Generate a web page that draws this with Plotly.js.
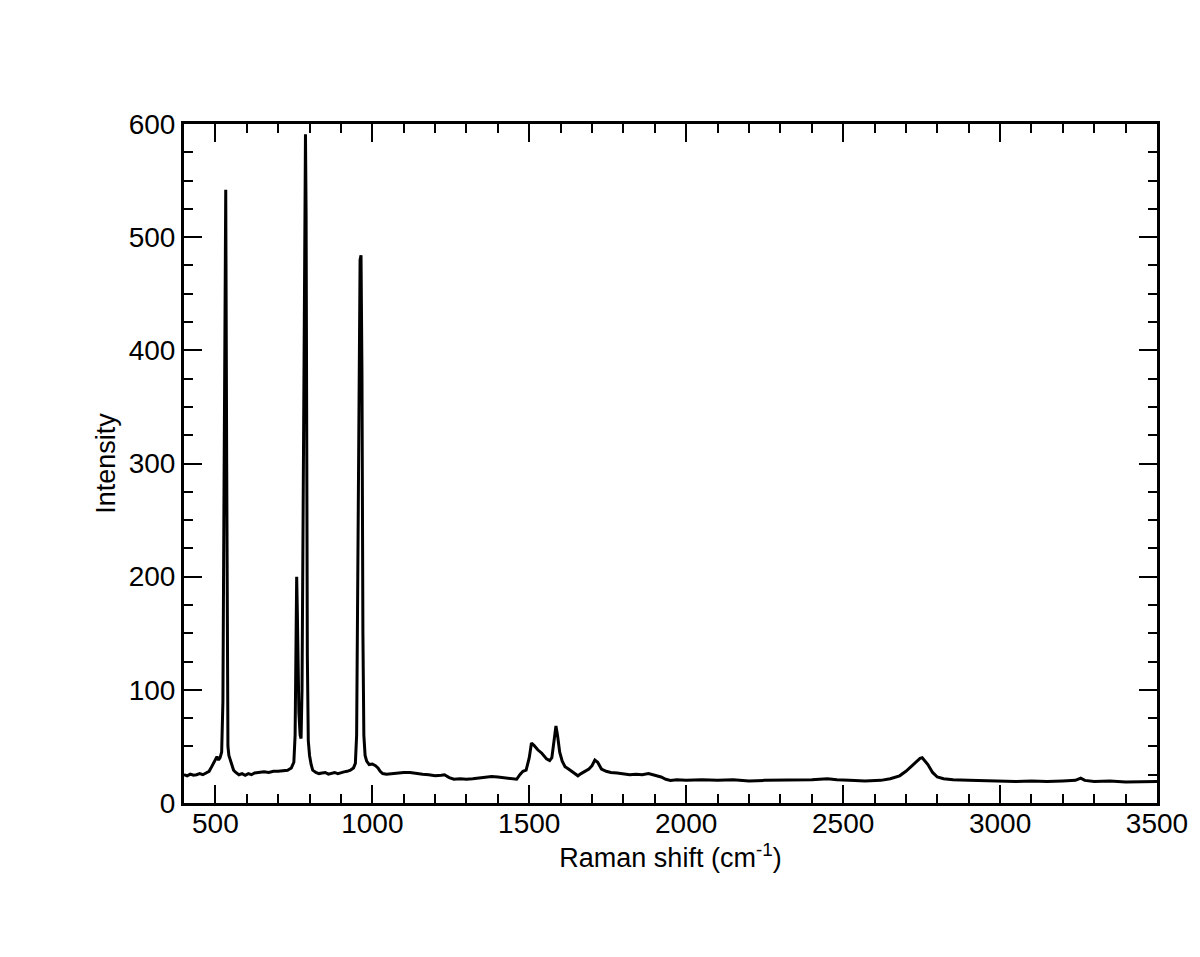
<!DOCTYPE html>
<html>
<head>
<meta charset="utf-8">
<script src="https://cdn.plot.ly/plotly-3.0.1.min.js"></script>
<style>html,body{margin:0;padding:0;background:#fff;}#chart{width:1200px;height:957px;}</style>
</head>
<body>
<div id="chart"></div>
<script>
const shift = [400,410,420,430,440,450,460,470,480,490,500,505,510,515,520,524,527,530,533,536,538,540,543,548,553,558,565,575,585,595,605,615,625,640,655,670,685,700,715,730,742,750,754,757,759,761,763,766,770,773,776,779,782,785,787,789,791,793,796,800,805,810,820,830,840,850,860,870,880,890,900,910,920,930,940,946,950,954,958,961,964,967,970,973,977,982,990,1000,1010,1018,1025,1033,1045,1060,1080,1100,1120,1140,1160,1180,1200,1220,1230,1245,1260,1280,1300,1320,1340,1360,1380,1400,1420,1440,1460,1470,1480,1490,1500,1507,1515,1527,1540,1555,1565,1572,1578,1585,1590,1597,1605,1614,1625,1640,1655,1665,1675,1690,1700,1709,1718,1730,1745,1760,1780,1800,1820,1840,1860,1880,1900,1920,1935,1950,1970,2000,2050,2100,2150,2200,2250,2300,2350,2400,2450,2480,2520,2570,2620,2650,2680,2700,2720,2735,2745,2752,2760,2770,2785,2800,2820,2850,2900,2950,3000,3050,3100,3150,3200,3240,3257,3270,3300,3350,3400,3450,3500];
const intensity = [25,24,25.5,24.5,25,26,25,26.5,28,33,39,41,38,40,45,90,250,470,542,300,100,50,42,38,33,29,27,25,26,24.5,26,25,26.5,27,27.5,27,28,28,28.5,29,31,36,60,140,200,170,120,80,60,57,100,250,450,580,591,520,300,130,55,42,34,29,27,26,26.5,27,25.5,26,27,26,27,27.5,28,29,31,35,60,200,400,480,484,380,150,60,42,37,34,34.5,33,31,28,26,25.5,26,26.5,27,27,26,25.5,25,24,24.5,25,22.5,21,21.5,21,21.5,22,22.5,23.5,23,22.5,21.5,21,25,28,29,40,53,51,47,44,39,37.5,40,55,68,60,45,37,32,30,27,24,26,27.5,30,33,38,36,30,28,27,26.5,26,25,25.5,25,26,24.5,23,21,20,20.5,20,20.5,20,20.5,19.5,20,20,20.5,20.5,21.5,20.5,20,19.5,20,21.5,24,28,33,37,39.5,40,37,34,27,23,21.5,20.5,20,19.5,19.5,19,19.5,19,19.5,20,22,20,19,19.5,18.5,19,19];
const xTickVals = [500,1000,1500,2000,2500,3000,3500];
const yTickVals = [0,100,200,300,400,500,600];

const tickFont = {family: 'Liberation Sans, Arial, Helvetica, sans-serif', size: 28, color: '#000'};
const titleFont = {family: 'Liberation Sans, Arial, Helvetica, sans-serif', size: 27, color: '#000'};

Plotly.newPlot('chart', [{
  x: shift, y: intensity, type: 'scatter', mode: 'lines',
  line: {color: '#000', width: 3}, hoverinfo: 'skip'
}], {
  width: 1200, height: 957,
  margin: {l: 184, r: 43, t: 124, b: 154},
  paper_bgcolor: '#fff', plot_bgcolor: '#fff',
  showlegend: false,
  font: tickFont,
  xaxis: {
    range: [400, 3500], tickvals: xTickVals, ticktext: xTickVals.map(String),
    ticks: 'inside', ticklen: 18, tickwidth: 2, tickcolor: '#000',
    ticklabelstandoff: -7,
    minor: {dtick: 100, tick0: 400, ticks: 'inside', ticklen: 9, tickwidth: 2, tickcolor: '#000', showgrid: false},
    showline: true, linecolor: '#000', linewidth: 3, mirror: 'allticks',
    showgrid: false, zeroline: false, tickfont: tickFont,
    title: {text: 'Raman shift (cm<sup>-1</sup>)', font: titleFont, standoff: 6}
  },
  yaxis: {
    range: [0, 600], tickvals: yTickVals, ticktext: yTickVals.map(String),
    ticks: 'inside', ticklen: 18, tickwidth: 2, tickcolor: '#000',
    minor: {dtick: 25, tick0: 0, ticks: 'inside', ticklen: 9, tickwidth: 2, tickcolor: '#000', showgrid: false},
    showline: true, linecolor: '#000', linewidth: 3, mirror: 'allticks',
    showgrid: false, zeroline: false, tickfont: tickFont,
    title: {text: 'Intensity', font: titleFont, standoff: 6}
  }
}, {displayModeBar: false, staticPlot: true});
</script>
</body>
</html>
